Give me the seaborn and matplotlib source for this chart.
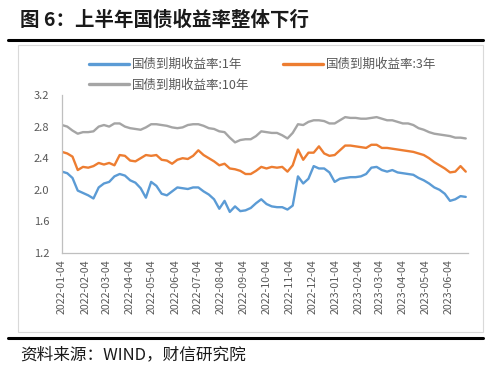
import numpy as np
import pandas as pd
import matplotlib
matplotlib.use("Agg")
import matplotlib.pyplot as plt
import matplotlib.dates as mdates
from matplotlib.lines import Line2D
from matplotlib.patches import Rectangle
import seaborn as sns

# ---- data (weekly readings from the chart) ----
dates = pd.date_range("2022-01-04", periods=78, freq="7D")

y1 = [2.23, 2.21, 2.15, 1.99, 1.96, 1.93, 1.89, 2.03, 2.08, 2.10,
      2.17, 2.20, 2.18, 2.12, 2.09, 2.02, 1.90, 2.10, 2.05, 1.95,
      1.93, 1.98, 2.03, 2.02, 2.01, 2.03, 2.03, 1.98, 1.94, 1.88,
      1.76, 1.86, 1.72, 1.79, 1.73, 1.74, 1.77, 1.83, 1.88, 1.82,
      1.79, 1.78, 1.78, 1.75, 1.80, 2.17, 2.08, 2.14, 2.30, 2.27,
      2.27, 2.22, 2.10, 2.14, 2.15, 2.16, 2.16, 2.17, 2.20, 2.28,
      2.29, 2.25, 2.23, 2.25, 2.22, 2.21, 2.20, 2.19, 2.15, 2.12,
      2.08, 2.03, 2.00, 1.95, 1.86, 1.88, 1.92, 1.91]

y3 = [2.48, 2.46, 2.42, 2.25, 2.29, 2.28, 2.30, 2.34, 2.32, 2.34,
      2.31, 2.44, 2.43, 2.37, 2.36, 2.40, 2.44, 2.43, 2.44, 2.38,
      2.37, 2.33, 2.38, 2.40, 2.39, 2.43, 2.50, 2.44, 2.40, 2.36,
      2.31, 2.33, 2.27, 2.26, 2.24, 2.20, 2.20, 2.24, 2.29, 2.27,
      2.29, 2.28, 2.29, 2.23, 2.31, 2.51, 2.38, 2.47, 2.47, 2.55,
      2.46, 2.43, 2.44, 2.50, 2.56, 2.56, 2.55, 2.54, 2.53, 2.57,
      2.57, 2.53, 2.53, 2.52, 2.51, 2.50, 2.49, 2.48, 2.46, 2.44,
      2.40, 2.35, 2.31, 2.27, 2.22, 2.23, 2.30, 2.23]

y10 = [2.82, 2.80, 2.75, 2.71, 2.73, 2.73, 2.74, 2.80, 2.82, 2.80,
       2.84, 2.84, 2.80, 2.78, 2.77, 2.76, 2.79, 2.83, 2.83, 2.82,
       2.81, 2.79, 2.78, 2.79, 2.82, 2.83, 2.83, 2.81, 2.78, 2.77,
       2.74, 2.73, 2.66, 2.60, 2.63, 2.64, 2.64, 2.68, 2.74, 2.73,
       2.72, 2.72, 2.69, 2.65, 2.72, 2.83, 2.82, 2.86, 2.88, 2.88,
       2.87, 2.84, 2.84, 2.88, 2.92, 2.91, 2.91, 2.90, 2.90, 2.91,
       2.92, 2.90, 2.88, 2.88, 2.86, 2.84, 2.84, 2.82, 2.78, 2.76,
       2.73, 2.71, 2.70, 2.69, 2.68, 2.66, 2.66, 2.65]

series_names = ["国债到期收益率:1年", "国债到期收益率:3年", "国债到期收益率:10年"]
colors = ["#5B9BD5", "#ED7D31", "#A5A5A5"]
yticks = [1.2, 1.6, 2.0, 2.4, 2.8, 3.2]
title = "图 6：上半年国债收益率整体下行"
source = "资料来源：WIND，财信研究院"

df = pd.DataFrame({
    "date": np.concatenate([dates, dates, dates]),
    "value": np.concatenate([y1, y3, y10]),
    "series": np.repeat(series_names, len(dates)),
})

# ---- style ----
sns.set_style("white")
plt.rcParams["font.family"] = ["Noto Sans CJK SC", "DejaVu Sans"]

fig = plt.figure(figsize=(5, 3.75), dpi=100)
ax = fig.add_axes([62 / 500, 1 - 253 / 375, (468 - 62) / 500, 158 / 375])

sns.lineplot(data=df, x="date", y="value", hue="series", hue_order=series_names,
             palette=colors, linewidth=1.7, ax=ax, legend=True)

handles, labels = ax.get_legend_handles_labels()
ax.get_legend().remove()
order = [0, 2, 1]
leg = fig.legend([handles[i] for i in order], [labels[i] for i in order],
                 loc="upper left", bbox_to_anchor=(89 / 500, 1 - 58 / 375),
                 ncol=2, frameon=False, fontsize=9, handlelength=3.2,
                 handletextpad=0.25, columnspacing=2.7, labelspacing=0.6,
                 borderpad=0, borderaxespad=0)
for t in leg.get_texts():
    t.set_color("#595959")
for h in leg.legend_handles:
    h.set_linewidth(2.4)

ax.set_xlim(pd.Timestamp("2022-01-04"), pd.Timestamp("2023-06-30"))
ax.set_ylim(1.2, 3.2)
ax.set_yticks(yticks)
ax.set_yticklabels([f"{v:.1f}" for v in yticks])
ax.xaxis.set_major_locator(mdates.MonthLocator(bymonthday=4))
ax.xaxis.set_major_formatter(mdates.DateFormatter("%Y-%m-%d"))
ax.tick_params(axis="x", rotation=90, labelsize=7.7, colors="#595959",
               direction="inout", length=5, width=0.8, pad=2)
ax.tick_params(axis="y", labelsize=8, colors="#595959",
               direction="out", length=3, width=0.8, pad=6)
for lbl in ax.get_xticklabels() + ax.get_yticklabels():
    lbl.set_color("#595959")
ax.set_xlabel("")
ax.set_ylabel("")
for s in ["top", "right"]:
    ax.spines[s].set_visible(False)
for s in ["left", "bottom"]:
    ax.spines[s].set_color("#BFBFBF")
    ax.spines[s].set_linewidth(0.9)
ax.tick_params(axis="both", color="#BFBFBF")
ax.grid(False)

# ---- frame decorations ----
fig.patches.append(Rectangle((18 / 500, 1 - 332 / 375), 465 / 500, 287 / 375,
                             transform=fig.transFigure, fill=False,
                             edgecolor="#D9D9D9", linewidth=0.8))
fig.lines.append(Line2D([8 / 500, 483 / 500], [1 - 39.5 / 375] * 2,
                        transform=fig.transFigure, color="black", linewidth=2.2))
fig.lines.append(Line2D([8 / 500, 483 / 500], [1 - 338 / 375] * 2,
                        transform=fig.transFigure, color="black", linewidth=2.2))

fig.text(20 / 500, 1 - 20 / 375, title, fontsize=14, fontweight="bold",
         va="center", ha="left", color="#1a1a1a")
fig.text(20 / 500, 1 - 355 / 375, source, fontsize=12, style="italic",
         va="center", ha="left", color="#1a1a1a")

fig.savefig("out.png", dpi=100)
